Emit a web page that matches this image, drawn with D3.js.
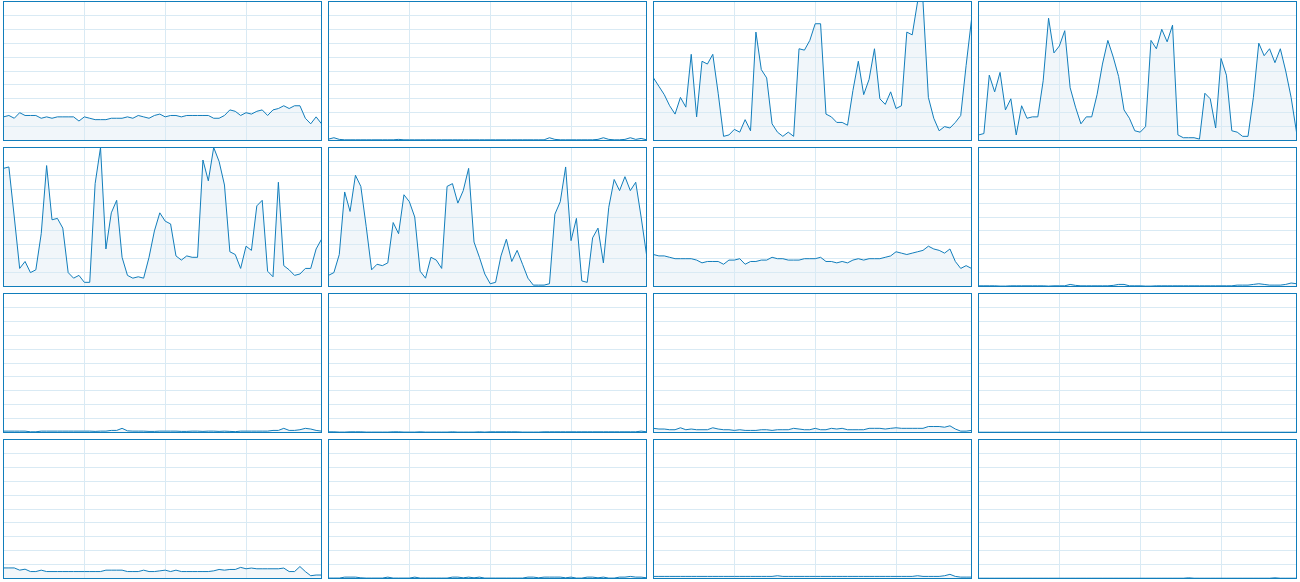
<!DOCTYPE html>
<html><head><meta charset="utf-8">
<script src="https://cdn.jsdelivr.net/npm/d3@7"></script>
<style>html,body{margin:0;padding:0;background:#fff;overflow:hidden}</style>
</head><body><svg id="chart" width="1300" height="582"></svg>
<script>
// CPU utilisation (%) per logical processor, 60 one-second samples each
const cpu0 = [17,18,16,20,18,18,18,16,17,16, 17,17,17,17,14,17,16,15,15,15, 16,16,16,17,16,18,17,16,18,19, 17,18,18,17,18,18,18,18,18,16, 16,18,22,21,18,20,19,21,22,18, 22,23,25,23,25,25,16,12,17,12];
const cpu1 = [1,2,0.8,0.5,0.5,0.5,0.5,0.5,0.5,0.5, 0.5,0.5,0.5,0.8,0.5,0.5,0.5,0.5,0.5,0.5, 0.5,0.5,0.5,0.5,0.5,0.5,0.5,0.5,0.5,0.5, 0.5,0.5,0.5,0.5,0.5,0.5,0.5,0.5,0.5,0.5, 0.5,2,0.8,0.5,0.5,0.5,0.5,0.5,0.5,0.5, 0.8,2,0.8,0.5,0.5,0.8,2,0.8,1.5,0.5];
const cpu2 = [45,39,33,25,19,31,24,62,17,57, 55,62,34,3,4,8,6,15,7,78, 51,45,12,6,3,6,3,66,65,72, 84,84,19,17,13,13,11,36,57,33, 44,66,30,26,35,23,25,78,76,100, 100,31,16,7,10,9,13,18,54,87];
const cpu3 = [4,5,47,35,49,22,30,4,25,16, 17,17,43,88,63,68,79,38,24,12, 17,17,33,55,72,60,46,22,16,7, 6,10,72,66,80,71,83,4,2,2, 2,1,34,30,9,59,47,7,6,3, 3,31,70,61,66,56,66,50,31,6];
const cpu4 = [85,86,50,13,18,10,12,38,87,48, 49,42,10,6,8,3,3,74,100,27, 53,62,21,8,6,7,6,21,40,53, 47,45,22,19,22,21,21,91,76,100, 90,73,25,23,13,29,26,58,62,11, 7,75,15,12,8,9,13,13,27,34];
const cpu5 = [8,10,23,68,54,80,72,43,12,16, 15,17,46,38,66,61,50,11,6,21, 19,13,72,74,60,69,85,32,21,9, 2,3,22,34,18,26,16,6,1,1, 1,2,52,61,86,33,49,4,3,35, 42,17,57,77,69,79,69,75,50,23];
const cpu6 = [23,22,22,21,20,20,20,20,19,17, 18,18,18,16,19,19,20,16,18,18, 19,19,21,20,20,19,19,19,20,20, 20,21,18,18,17,18,17,19,20,19, 20,20,20,21,22,25,24,23,24,25, 26,29,27,26,24,27,18,13,15,13];
const cpu7 = [0.5,0.5,0.5,0.5,0.3,0.3,0.5,0.5,0.5,0.5, 0.5,0.5,0.5,0.3,0.5,0.5,0.5,1.5,0.8,0.5, 0.5,0.5,0.5,0.5,0.5,0.8,1.5,1.5,0.5,0.5, 0.5,0.3,0.3,0.5,0.5,0.5,0.5,0.5,0.5,0.5, 0.5,0.5,0.5,0.5,0.5,0.5,0.5,0.5,1,1, 1,1.5,2,1.5,1,1,1,1.5,2.5,2];
const cpu8 = [1,1,1,1,1,0.5,0.5,1,1,1, 1,1,1,1,1,1,1,0.8,1,1, 1.5,1.5,3,1.2,1,1,1,0.8,0.8,1, 1,1,1,0.8,0.8,1,1,0.8,1,1, 0.8,1,0.8,0.6,1,1,1,1,1,1, 1.5,1.5,3,1.5,1.5,2,3,2.5,1.5,1];
const cpu9 = [0.5,0.5,0.3,0.3,0.5,0.5,0.5,0.3,0.3,0.3, 0.3,0.3,0.5,0.5,0.3,0.3,0.3,0.5,0.3,0.3, 0.3,0.3,0.3,0.5,0.3,0.3,0.3,0.3,0.5,0.3, 0.5,0.5,0.5,0.5,0.5,0.5,0.3,0.3,0.3,0.3, 0.5,0.5,0.5,0.5,0.5,0.5,0.5,0.5,0.5,0.5, 0.5,0.5,0.5,0.5,0.5,0.5,0.5,0.5,1,0.5];
const cpu10 = [3,2.5,2.5,2,2,3.4,2,2.5,2,2, 2,3.4,2.5,2,2,1.5,2,1.5,1.5,1.5, 2,2,1.5,2,2,2,3,2.5,2,2, 3,2,2,3,2.5,3,2,2,2,2, 3,3,3,2.5,3,3.4,3,3,3,3, 3,4.3,4.3,4.3,3.8,4.8,2.5,1,1,1.5];
const cpu11 = [0.2,0.2,0.2,0.2,0.2,0.2,0.2,0.2,0.2,0.2, 0.2,0.2,0.2,0.2,0.2,0.2,0.2,0.2,0.2,0.2, 0.2,0.2,0.2,0.2,0.2,0.2,0.2,0.2,0.2,0.2, 0.2,0.2,0.2,0.2,0.2,0.2,0.2,0.2,0.2,0.2, 0.2,0.2,0.2,0.2,0.2,0.2,0.2,0.2,0.2,0.2, 0.2,0.2,0.2,0.2,0.2,0.2,0.2,0.2,0.2,0.2];
const cpu12 = [7.6,7.6,7.6,6,6.7,5,5,6,5,5, 5,5,5,5,5,5,5,5,5,6, 6,6,6,5,5,5,6,5,5,5.5, 6,5,6,5,5,5,5,5,5,5.5, 6.5,6,6.5,6.5,8,7,7.5,7,7,7, 7,7,7.5,5,5,8.6,5,2,2.5,2.5];
const cpu13 = [0.3,0.3,0.3,1,1,1,0.5,0.3,0.3,0.3, 0.3,1,0.3,0.3,0.3,0.3,1,0.3,0.3,0.3, 0.3,0.3,0.3,1,1,0.5,1,0.5,1,0.3, 0.3,0.3,0.3,0.3,0.3,0.3,0.3,1,1,0.5, 1,1,1,1,0.5,1,0.3,0.3,1,1, 0.5,1,0.3,0.3,1,1,1.5,1,1,0.5];
const cpu14 = [1.5,1.5,1.5,1.5,1.5,1.5,1.5,1.5,1.5,1.5, 1.5,1.5,1.5,1.5,1.5,1.5,1.5,1.5,1.5,1.5, 1.5,1.5,1.5,2,1.5,1.5,1.5,1.5,1.5,1.5, 1.5,1.5,1.5,1.5,1.5,1.5,1.5,1.5,1.5,1.5, 1.5,1.5,1.5,1.5,1.5,1.5,1.5,1.5,1.5,2, 1.5,1.5,1.5,1.5,2,3,1.5,1,1,1];
const cpu15 = [0.2,0.2,0.2,0.2,0.2,0.2,0.2,0.2,0.2,0.2, 0.2,0.2,0.2,0.2,0.2,0.2,0.2,0.2,0.2,0.2, 0.2,0.2,0.2,0.2,0.2,0.2,0.2,0.2,0.2,0.2, 0.2,0.2,0.2,0.2,0.2,0.2,0.2,0.2,0.2,0.5, 0.2,0.2,0.2,0.2,0.2,0.2,0.2,0.2,0.2,0.2, 0.2,0.2,0.2,0.2,0.2,0.5,0.2,0.2,0.2,0.2];

const seriesList = [cpu0,cpu1,cpu2,cpu3,cpu4,cpu5,cpu6,cpu7,cpu8,cpu9,cpu10,cpu11,cpu12,cpu13,cpu14,cpu15];
const gridSeconds = [15, 30, 45];
const gridPercents = [10, 20, 30, 40, 50, 60, 70, 80, 90];

const cols = 4;
const panelW = 318, panelH = 139, pitchX = 325, pitchY = 146, originX = 3.5, originY = 1.5;
const lineColor = "#117dbb", fillColor = "#f1f6fa", gridColor = "#d9eaf4";

const svg = d3.select("#chart");
const x = d3.scaleLinear().domain([0, 59]).range([0, panelW]);
const y = d3.scaleLinear().domain([0, 100]).range([panelH, 0]);
const area = d3.area().x((d, i) => x(i)).y0(panelH).y1(d => y(d));
const line = d3.line().x((d, i) => x(i)).y(d => y(d));

seriesList.forEach((data, k) => {
  const c = k % cols, r = Math.floor(k / cols);
  const g = svg.append("g").attr("transform", `translate(${originX + c * pitchX},${originY + r * pitchY})`);
  const clipId = "clip" + k;
  g.append("clipPath").attr("id", clipId).append("rect").attr("width", panelW).attr("height", panelH);
  g.append("rect").attr("width", panelW).attr("height", panelH).attr("fill", "#fff");
  const inner = g.append("g").attr("clip-path", `url(#${clipId})`);
  inner.append("path").datum(data).attr("d", area).attr("fill", fillColor);
  const gx = inner.append("g").attr("transform", `translate(-0.5,${panelH})`)
    .call(d3.axisBottom(x).tickValues(gridSeconds).tickSize(-panelH).tickFormat(""));
  const gy = inner.append("g").attr("transform", "translate(0,-0.5)")
    .call(d3.axisLeft(y).tickValues(gridPercents).tickSize(-panelW).tickFormat(""));
  [gx, gy].forEach(a => {
    a.select(".domain").remove();
    a.selectAll("line").attr("stroke", gridColor).attr("stroke-width", 1).attr("shape-rendering", "crispEdges");
  });
  inner.append("path").datum(data).attr("d", line).attr("fill", "none")
    .attr("stroke", lineColor).attr("stroke-width", 1).attr("stroke-linejoin", "miter");
  g.append("rect").attr("width", panelW).attr("height", panelH).attr("fill", "none")
    .attr("stroke", lineColor).attr("stroke-width", 1);
});
</script></body></html>
